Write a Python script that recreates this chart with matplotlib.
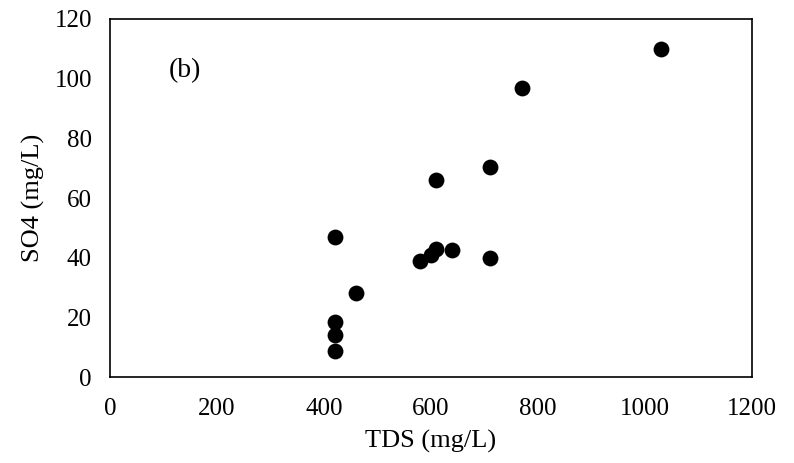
import matplotlib
matplotlib.use("Agg")
import matplotlib.pyplot as plt

tds = [1030, 770, 610, 710, 420, 580, 600, 610, 640, 710, 460, 420, 420, 420]
so4 = [110, 97, 66, 70.5, 47, 39, 41, 43, 42.5, 39.8, 28, 18.5, 14, 8.7]

x_ticks = [0, 200, 400, 600, 800, 1000, 1200]
y_ticks = [0, 20, 40, 60, 80, 100, 120]

plt.rcParams['font.family'] = ['Liberation Serif', 'DejaVu Serif']

fig = plt.figure(figsize=(7.94, 4.63), dpi=100)
ax = fig.add_axes([0.1385, 0.1857, 0.8085, 0.7733])
ax.scatter(tds, so4, s=130, color='black', zorder=3, linewidths=0)
ax.set_xlim(0, 1200)
ax.set_ylim(0, 120)
ax.set_xticks(x_ticks)
ax.set_yticks(y_ticks)
ax.tick_params(length=0, labelsize=18)
ax.tick_params(axis='x', pad=15)
ax.tick_params(axis='y', pad=13)
for s in ax.spines.values():
    s.set_linewidth(1.2)
    s.set_color('black')
ax.set_xlabel('TDS (mg/L)', fontsize=19, labelpad=7)
ax.set_ylabel('SO4 (mg/L)', fontsize=19, labelpad=7)
ax.text(0.117, 0.857, '(b)', transform=ax.transAxes, fontsize=20, ha='center', va='center')

fig.savefig('out.png', dpi=100)
